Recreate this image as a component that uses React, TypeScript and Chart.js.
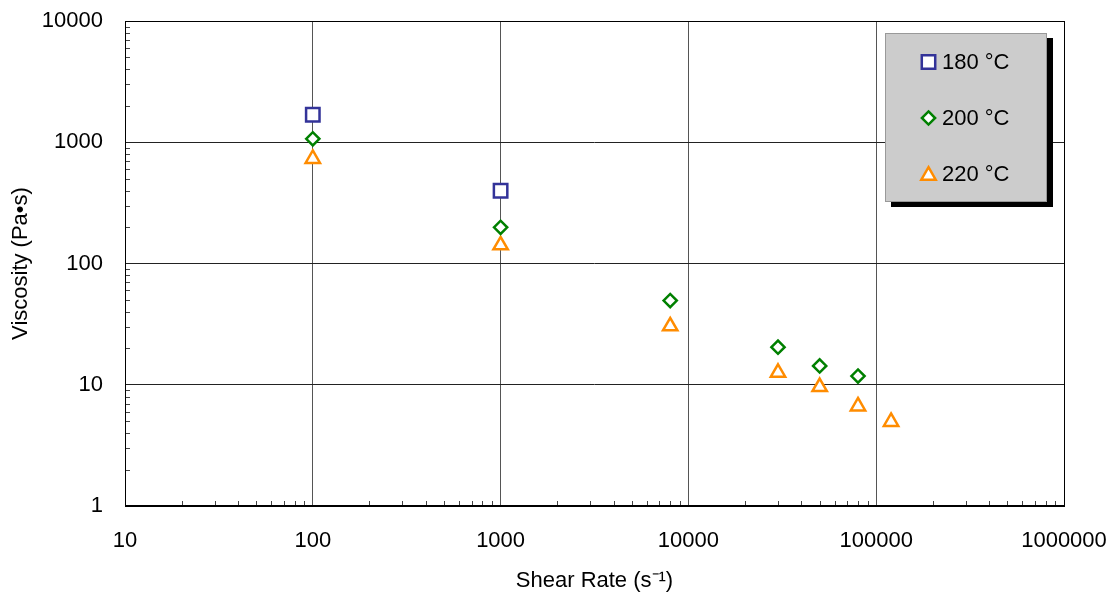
import React, { useEffect, useRef } from 'react';
import { Chart, registerables } from 'chart.js';

Chart.register(...registerables);

// ---- data ----
const seriesLabels = ['180 °C', '200 °C', '220 °C'];
const shear180 = [100, 1000];
const visc180 = [1684, 398];
const shear200 = [100, 1000, 8000, 30000, 50000, 80000];
const visc200 = [1067, 199, 49.5, 20.4, 14.3, 11.8];
const shear220 = [100, 1000, 8000, 30000, 50000, 80000, 120000];
const visc220 = [731, 141.6, 30.4, 12.6, 9.6, 6.65, 4.95];
const xTickValues = [10, 100, 1000, 10000, 100000, 1000000];
const yTickValues = [1, 10, 100, 1000, 10000];
const xTitle = 'Shear Rate (s⁻¹)';
const yTitle = 'Viscosity (Pa•s)';

// ---- styles ----
const colors = ['#333399', '#008000', '#ff8c00'];
const pointStyles = ['rect', 'rectRot', 'triangle'];
const radii = [9.5, 6.6, 8.3];
const FONT = '"Liberation Sans", Arial, sans-serif';

function drawMarker(ctx: CanvasRenderingContext2D, style: string, x: number, y: number, r: number) {
  ctx.beginPath();
  if (style === 'rect') {
    const s = Math.SQRT1_2 * r;
    ctx.rect(x - s, y - s, 2 * s, 2 * s);
  } else if (style === 'rectRot') {
    ctx.moveTo(x, y - r);
    ctx.lineTo(x + r, y);
    ctx.lineTo(x, y + r);
    ctx.lineTo(x - r, y);
    ctx.closePath();
  } else {
    let rad = 0;
    ctx.moveTo(x + Math.sin(rad) * r, y - Math.cos(rad) * r);
    rad += (2 * Math.PI) / 3;
    ctx.lineTo(x + Math.sin(rad) * r, y - Math.cos(rad) * r);
    rad += (2 * Math.PI) / 3;
    ctx.lineTo(x + Math.sin(rad) * r, y - Math.cos(rad) * r);
    ctx.closePath();
  }
  ctx.fill();
  ctx.stroke();
}

const framePlugin = {
  id: 'frame',
  beforeDatasetsDraw(chart: any) {
    const { ctx, chartArea: a, scales } = chart;
    const xs = scales.x;
    const ys = scales.y;
    ctx.save();
    // minor ticks
    ctx.strokeStyle = '#444';
    ctx.lineWidth = 1;
    ctx.beginPath();
    for (let d = 10; d < 1000000; d *= 10) {
      for (let k = 2; k <= 9; k++) {
        const px = Math.round(xs.getPixelForValue(d * k)) + 0.5;
        ctx.moveTo(px, a.bottom);
        ctx.lineTo(px, a.bottom - 5);
      }
    }
    for (let d = 1; d < 10000; d *= 10) {
      for (let k = 2; k <= 9; k++) {
        const py = Math.round(ys.getPixelForValue(d * k)) + 0.5;
        ctx.moveTo(a.left, py);
        ctx.lineTo(a.left + 5, py);
      }
    }
    ctx.stroke();
    // frame
    ctx.strokeStyle = '#000';
    ctx.lineWidth = 1;
    ctx.strokeRect(Math.round(a.left) + 0.5, Math.round(a.top) + 0.5, Math.round(a.right - a.left), Math.round(a.bottom - a.top));
    ctx.lineWidth = 2;
    ctx.beginPath();
    ctx.moveTo(a.left, Math.round(a.bottom));
    ctx.lineTo(a.right + 1, Math.round(a.bottom));
    ctx.stroke();
    ctx.restore();
  },
  afterDraw(chart: any) {
    const { ctx, chartArea: a } = chart;
    const lx = a.right - 179;
    const ly = a.top + 12;
    const lw = 162;
    const lh = 169;
    ctx.save();
    ctx.fillStyle = '#000';
    ctx.fillRect(lx + 6, ly + 5, lw, lh);
    ctx.fillStyle = '#cccccc';
    ctx.fillRect(lx, ly, lw, lh);
    ctx.strokeStyle = '#999';
    ctx.lineWidth = 1;
    ctx.strokeRect(lx + 0.5, ly + 0.5, lw - 1, lh - 1);
    const rows = [29, 85, 141];
    chart.data.datasets.forEach((ds: any, i: number) => {
      const y = ly + rows[i];
      ctx.fillStyle = '#ffffff';
      ctx.strokeStyle = colors[i];
      ctx.lineWidth = 2.5;
      drawMarker(ctx, pointStyles[i], lx + 43.5, y + (i === 2 ? 1.5 : 0), radii[i]);
      ctx.fillStyle = '#000';
      ctx.font = `22px ${FONT}`;
      ctx.textBaseline = 'middle';
      ctx.textAlign = 'left';
      ctx.fillText(ds.label, lx + 57, y + 1);
    });
    ctx.restore();
  },
};

function toPoints(xs: number[], ys: number[]) {
  return xs.map((x, i) => ({ x, y: ys[i] }));
}

export default function App() {
  const ref = useRef<HTMLCanvasElement | null>(null);
  useEffect(() => {
    if (!ref.current) return;
    const series = [
      toPoints(shear180, visc180),
      toPoints(shear200, visc200),
      toPoints(shear220, visc220),
    ];
    const chart = new Chart(ref.current, {
      type: 'scatter',
      data: {
        datasets: series.map((data, i) => ({
          label: seriesLabels[i],
          data,
          pointStyle: pointStyles[i] as any,
          pointRadius: radii[i],
          pointHoverRadius: radii[i],
          borderColor: colors[i],
          backgroundColor: '#ffffff',
          pointBorderWidth: 2.5,
          borderWidth: 2.5,
          showLine: false,
        })),
      },
      options: {
        animation: false,
        responsive: false,
        maintainAspectRatio: false,
        events: [],
        layout: { padding: { top: 21, right: 50, left: 0, bottom: 0 } },
        plugins: {
          legend: { display: false },
          tooltip: { enabled: false },
          title: { display: false },
        },
        scales: {
          x: {
            type: 'logarithmic',
            min: 10,
            max: 1000000,
            afterBuildTicks: (s: any) => {
              s.ticks = xTickValues.map((v) => ({ value: v, major: true }));
            },
            afterFit: (s: any) => {
              s.height = 88;
              s.paddingLeft = 0;
              s.paddingRight = 0;
            },
            ticks: {
              autoSkip: false,
              maxRotation: 0,
              padding: 22,
              color: '#000',
              font: { family: FONT, size: 22 },
              callback: (v: any) => String(v),
            },
            grid: { color: '#555', lineWidth: 1, drawTicks: false },
            border: { display: false },
            title: {
              display: true,
              text: xTitle,
              color: '#000',
              font: { family: FONT, size: 22 },
              padding: { top: 0, bottom: 0 },
            },
          },
          y: {
            type: 'logarithmic',
            min: 1,
            max: 10000,
            afterBuildTicks: (s: any) => {
              s.ticks = yTickValues.map((v) => ({ value: v, major: true }));
            },
            afterFit: (s: any) => {
              s.width = 125;
              s.paddingTop = 0;
              s.paddingBottom = 0;
            },
            ticks: {
              autoSkip: false,
              padding: 22,
              color: '#000',
              font: { family: FONT, size: 22 },
              callback: (v: any) => String(v),
            },
            grid: { color: '#222', lineWidth: 1, drawTicks: false },
            border: { display: false },
            title: {
              display: true,
              text: yTitle,
              color: '#000',
              font: { family: FONT, size: 22 },
              padding: { top: 8, bottom: 0 },
            },
          },
        },
      },
      plugins: [framePlugin],
    } as any);
    return () => chart.destroy();
  }, []);
  return (
    <div style={{ position: 'fixed', left: 0, top: 0, width: 1114, height: 594, background: '#fff' }}>
      <canvas ref={ref} width={1114} height={594} style={{ display: 'block', width: 1114, height: 594 }} />
    </div>
  );
}
